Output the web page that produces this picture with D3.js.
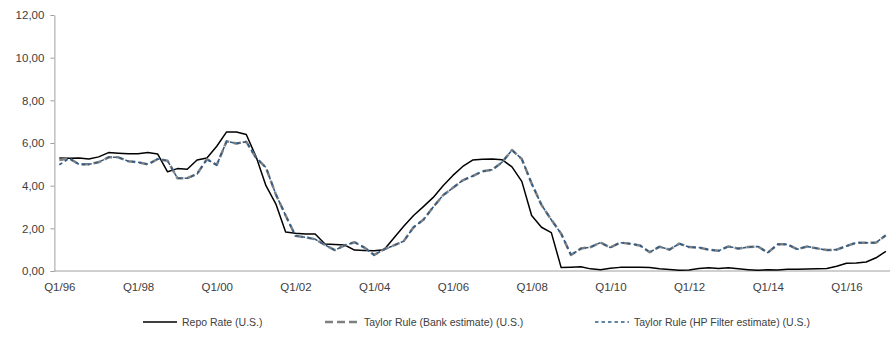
<!DOCTYPE html>
<html>
<head>
<meta charset="utf-8">
<script src="https://cdn.jsdelivr.net/npm/d3@7"></script>
<style>
  html, body { margin: 0; padding: 0; background: #fff; }
  svg text { font-family: "Liberation Sans", Arial, sans-serif; fill: #404040; }
</style>
</head>
<body>
<svg id="chart" width="890" height="352"></svg>
<script>
// Quarterly observations Q1/96 .. Q1/17
const startYear = 1996;
const quarterCount = 85;
const quarters = d3.range(quarterCount).map(i => {
  const y = startYear + Math.floor(i / 4);
  return "Q" + (i % 4 + 1) + "/" + String(y).slice(2);
});

const tickLabels = ["Q1/96", "Q1/98", "Q1/00", "Q1/02", "Q1/04", "Q1/06",
                    "Q1/08", "Q1/10", "Q1/12", "Q1/14", "Q1/16"];
const yTicks = [0, 2, 4, 6, 8, 10, 12];

const repoRate = [
  5.30, 5.28, 5.30, 5.25, 5.35, 5.55, 5.52, 5.50, 5.50, 5.55,
  5.48, 4.65, 4.80, 4.77, 5.20, 5.30, 5.85, 6.52, 6.52, 6.40,
  5.35, 4.00, 3.15, 1.83, 1.77, 1.73, 1.73, 1.27, 1.24, 1.22,
  0.98, 0.96, 0.95, 1.00, 1.55, 2.10, 2.60, 3.02, 3.45, 4.00,
  4.48, 4.90, 5.20, 5.24, 5.25, 5.22, 4.88, 4.20, 2.60, 2.05,
  1.80, 0.16, 0.18, 0.20, 0.10, 0.06, 0.13, 0.17, 0.17, 0.17,
  0.16, 0.10, 0.07, 0.04, 0.05, 0.12, 0.15, 0.12, 0.15, 0.10,
  0.06, 0.03, 0.06, 0.05, 0.08, 0.08, 0.09, 0.10, 0.12, 0.22,
  0.36, 0.38, 0.42, 0.62, 0.92
];

const taylorBank = [
  5.20, 5.28, 5.00, 5.00, 5.10, 5.33, 5.33, 5.15, 5.10, 5.00,
  5.25, 5.17, 4.35, 4.35, 4.55, 5.24, 4.97, 6.08, 5.98, 6.06,
  5.30, 4.85, 3.60, 2.60, 1.65, 1.58, 1.49, 1.22, 0.98, 1.20,
  1.35, 1.10, 0.75, 1.02, 1.20, 1.40, 2.05, 2.40, 3.00, 3.55,
  3.90, 4.25, 4.45, 4.67, 4.75, 5.10, 5.67, 5.25, 4.10, 3.10,
  2.40, 1.75, 0.75, 1.05, 1.12, 1.33, 1.10, 1.33, 1.28, 1.20,
  0.88, 1.14, 1.00, 1.28, 1.12, 1.10, 1.00, 0.95, 1.15, 1.05,
  1.12, 1.15, 0.86, 1.25, 1.25, 1.02, 1.15, 1.06, 0.98, 1.00,
  1.17, 1.33, 1.32, 1.33, 1.68
];

const taylorHP = [
  4.98, 5.28, 5.00, 5.00, 5.10, 5.33, 5.33, 5.15, 5.10, 5.00,
  5.25, 5.17, 4.35, 4.35, 4.55, 5.24, 4.97, 6.08, 5.98, 6.06,
  5.30, 4.85, 3.60, 2.60, 1.65, 1.58, 1.49, 1.22, 0.98, 1.20,
  1.35, 1.10, 0.75, 1.02, 1.20, 1.40, 2.05, 2.40, 3.00, 3.55,
  3.90, 4.25, 4.45, 4.67, 4.75, 5.10, 5.67, 5.25, 4.10, 3.10,
  2.40, 1.75, 0.75, 1.05, 1.12, 1.33, 1.10, 1.33, 1.28, 1.20,
  0.88, 1.14, 1.00, 1.28, 1.12, 1.10, 1.00, 0.95, 1.15, 1.05,
  1.12, 1.15, 0.86, 1.25, 1.25, 1.02, 1.15, 1.06, 0.98, 1.00,
  1.17, 1.33, 1.32, 1.33, 1.68
];

const seriesNames = ["Repo Rate (U.S.)", "Taylor Rule (Bank estimate) (U.S.)", "Taylor Rule (HP Filter estimate) (U.S.)"];

const series = [
  { name: seriesNames[0], values: repoRate,   color: "#000000", width: 1.5, dash: null,  legendX: 143 },
  { name: seriesNames[1], values: taylorBank, color: "#808080", width: 2.5, dash: "8,4", legendX: 325 },
  { name: seriesNames[2], values: taylorHP,   color: "#2e5b87", width: 1.6, dash: "3.5,3", legendX: 595 }
];

const svg = d3.select("#chart");
const plot = { left: 54.4, right: 890.8, top: 15, bottom: 271 };

const x = d3.scalePoint().domain(quarters).range([plot.left, plot.right]).padding(0.5);
const y = d3.scaleLinear().domain([0, 12]).range([plot.bottom, plot.top]);

const fmt = v => d3.format(".2f")(v).replace(".", ",");

// Y axis
const yAxis = svg.append("g")
  .attr("transform", `translate(${plot.left},0)`)
  .call(d3.axisLeft(y).tickValues(yTicks).tickFormat(fmt).tickSizeInner(4).tickSizeOuter(0).tickPadding(6));
yAxis.select(".domain").attr("stroke", "#a0a0a0");
yAxis.selectAll(".tick line").attr("stroke", "#a0a0a0");
yAxis.selectAll("text").style("font-size", "11.5px").attr("fill", "#404040");

// X axis
const xAxis = svg.append("g")
  .attr("transform", `translate(0,${plot.bottom})`)
  .call(d3.axisBottom(x).tickValues(tickLabels).tickSize(0).tickPadding(12));
xAxis.select(".domain").attr("stroke", "#a0a0a0").attr("d", `M${plot.left},0H${plot.right}`);
xAxis.selectAll("text").style("font-size", "11.5px").attr("fill", "#404040");

// Lines
const line = d3.line()
  .x((d, i) => x(quarters[i]))
  .y(d => y(d));

series.forEach(s => {
  svg.append("path")
    .datum(s.values)
    .attr("fill", "none")
    .attr("stroke", s.color)
    .attr("stroke-width", s.width)
    .attr("stroke-dasharray", s.dash)
    .attr("stroke-linejoin", "round")
    .attr("d", line);
});

// Legend
const legendY = 322;
const legend = svg.append("g");
series.forEach(s => {
  legend.append("line")
    .attr("x1", s.legendX).attr("x2", s.legendX + 34)
    .attr("y1", legendY).attr("y2", legendY)
    .attr("stroke", s.color)
    .attr("stroke-width", s.width)
    .attr("stroke-dasharray", s.dash);
  legend.append("text")
    .attr("x", s.legendX + 39)
    .attr("y", legendY)
    .attr("dy", "0.35em")
    .style("font-size", "10.5px")
    .text(s.name);
});
</script>
</body>
</html>
